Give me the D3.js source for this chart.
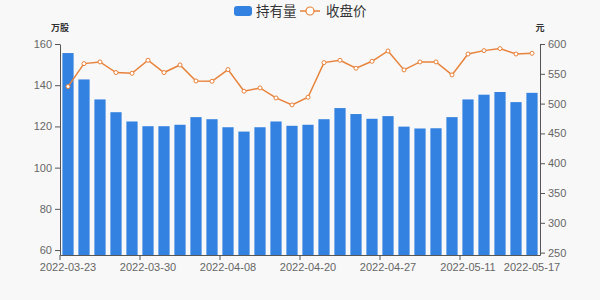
<!DOCTYPE html>
<html>
<head>
<meta charset="utf-8">
<script src="https://cdn.jsdelivr.net/npm/d3@7/dist/d3.min.js"></script>
<style>
  body { margin: 0; background: #f8f8f8; }
  svg { display: block; font-family: "Liberation Sans", "Noto Sans CJK SC", sans-serif; }
</style>
</head>
<body>
<div class="chart"></div>
<script>
var dates = ["2022-03-23", "2022-03-24", "2022-03-25", "2022-03-28", "2022-03-29",
  "2022-03-30", "2022-03-31", "2022-04-01", "2022-04-06", "2022-04-07",
  "2022-04-08", "2022-04-11", "2022-04-12", "2022-04-13", "2022-04-14",
  "2022-04-20", "2022-04-21", "2022-04-22", "2022-04-25", "2022-04-26",
  "2022-04-27", "2022-04-28", "2022-05-05", "2022-05-06", "2022-05-10",
  "2022-05-11", "2022-05-12", "2022-05-13", "2022-05-16", "2022-05-17"];

// 持有量 (万股)
var holdings = [155.6, 142.8, 133.1, 126.9, 122.4, 120.1, 120.1, 120.8, 124.5, 123.5,
  119.6, 117.5, 119.6, 122.4, 120.3, 120.8, 123.5, 128.9, 126.0, 123.7,
  125.0, 119.9, 119.0, 119.1, 124.5, 133.1, 135.4, 136.7, 131.8, 136.3];

// 收盘价 (元)
var closes = [528.6, 567.1, 569.9, 552.1, 550.9, 572.7, 552.1, 564.8, 538.0, 537.5,
  557.1, 520.8, 526.3, 509.5, 497.8, 510.7, 568.8, 572.7, 559.3, 571.0,
  588.3, 556.5, 569.9, 569.9, 548.1, 583.2, 588.9, 592.3, 583.2, 584.4];

var leftTicks = [60, 80, 100, 120, 140, 160];
var rightTicks = [250, 300, 350, 400, 450, 500, 550, 600];
var labelDates = ["2022-03-23", "2022-03-30", "2022-04-08", "2022-04-20", "2022-04-27", "2022-05-11", "2022-05-17"];

var svgWidth = 600;
var svgHeight = 300;
var margin = { top: 44, right: 60, bottom: 45, left: 60 };
var plotRight = svgWidth - margin.right;
var plotBottom = svgHeight - margin.bottom;

var barColor = "#3381e0";
var lineColor = "#e8823a";
var axisColor = "#555";
var textColor = "#666";

var svg = d3.select(".chart")
  .append("svg")
  .attr("width", svgWidth)
  .attr("height", svgHeight);

var x = d3.scaleBand()
  .domain(dates)
  .range([margin.left, plotRight])
  .paddingInner(0.3)
  .paddingOuter(0.15);

var yLeft = d3.scaleLinear()
  .domain([57.6, 160])
  .range([plotBottom, margin.top]);

var yRight = d3.scaleLinear()
  .domain([246, 600])
  .range([plotBottom, margin.top]);

// bars
svg.append("g")
  .selectAll("rect")
  .data(holdings)
  .enter()
  .append("rect")
  .attr("x", function(d, i) { return x(dates[i]); })
  .attr("y", function(d) { return yLeft(d); })
  .attr("width", x.bandwidth())
  .attr("height", function(d) { return plotBottom - yLeft(d); })
  .attr("fill", barColor);

// line
var line = d3.line()
  .x(function(d, i) { return x(dates[i]) + x.bandwidth() / 2; })
  .y(function(d) { return yRight(d); });

svg.append("path")
  .datum(closes)
  .attr("d", line)
  .attr("fill", "none")
  .attr("stroke", lineColor)
  .attr("stroke-width", 1.5);

svg.append("g")
  .selectAll("circle")
  .data(closes)
  .enter()
  .append("circle")
  .attr("cx", function(d, i) { return x(dates[i]) + x.bandwidth() / 2; })
  .attr("cy", function(d) { return yRight(d); })
  .attr("r", 2)
  .attr("fill", "#fff")
  .attr("stroke", lineColor)
  .attr("stroke-width", 1);

// axes
var leftAxis = svg.append("g")
  .attr("transform", "translate(" + margin.left + ",0)")
  .call(d3.axisLeft(yLeft).tickValues(leftTicks).tickSize(5).tickSizeOuter(0).tickPadding(3));

var rightAxis = svg.append("g")
  .attr("transform", "translate(" + plotRight + ",0)")
  .call(d3.axisRight(yRight).tickValues(rightTicks).tickSize(5).tickSizeOuter(0).tickPadding(3));

var step = x.step();
var bottomAxis = svg.append("g")
  .attr("transform", "translate(0," + plotBottom + ")")
  .call(d3.axisBottom(x).tickValues(labelDates).tickSize(0).tickSizeOuter(0).tickPadding(8));

// tick marks at band boundaries
bottomAxis.selectAll(".tickmark")
  .data(labelDates.slice(0, -1))
  .enter()
  .append("line")
  .attr("x1", function(d) { return x(d) - step * x.paddingInner() / 2; })
  .attr("x2", function(d) { return x(d) - step * x.paddingInner() / 2; })
  .attr("y1", 0)
  .attr("y2", 5)
  .attr("stroke", axisColor);

[leftAxis, rightAxis, bottomAxis].forEach(function(a) {
  a.select(".domain").attr("stroke", axisColor);
  a.selectAll(".tick line").attr("stroke", axisColor);
  a.selectAll("text").attr("fill", textColor).attr("font-size", 11);
});

// axis names
svg.append("text")
  .text("万股")
  .attr("x", 60)
  .attr("y", 31)
  .attr("text-anchor", "middle")
  .attr("font-size", 9)
  .attr("font-weight", "bold")
  .attr("fill", "#333");

svg.append("text")
  .text("元")
  .attr("x", 540)
  .attr("y", 31)
  .attr("text-anchor", "middle")
  .attr("font-size", 9)
  .attr("font-weight", "bold")
  .attr("fill", "#333");

// legend
var legend = svg.append("g");
legend.append("rect")
  .attr("x", 234).attr("y", 6).attr("width", 18).attr("height", 10).attr("rx", 3)
  .attr("fill", barColor);
legend.append("text")
  .text("持有量")
  .attr("x", 256).attr("y", 16)
  .attr("font-size", 13.5)
  .attr("fill", "#333");
legend.append("line")
  .attr("x1", 300).attr("x2", 320).attr("y1", 11).attr("y2", 11)
  .attr("stroke", lineColor).attr("stroke-width", 1.5);
legend.append("circle")
  .attr("cx", 310).attr("cy", 11).attr("r", 4)
  .attr("fill", "#fff").attr("stroke", lineColor).attr("stroke-width", 1.2);
legend.append("text")
  .text("收盘价")
  .attr("x", 326).attr("y", 16)
  .attr("font-size", 13.5)
  .attr("fill", "#333");
</script>
</body>
</html>
